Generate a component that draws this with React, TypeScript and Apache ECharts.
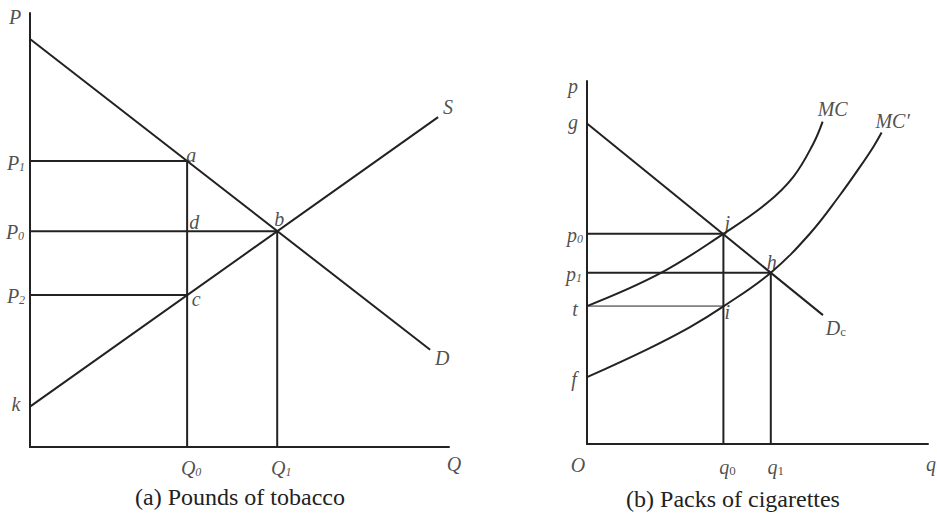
import React, { useEffect, useRef } from "react";
import * as echarts from "echarts";

// ---------- Panel (a): market for pounds of tobacco ----------
const tobaccoDemand: number[][] = [[0, 94], [95.5, 22.4]];
const tobaccoSupply: number[][] = [[0, 9.3], [97.4, 76]];
const Q0 = 37.5;
const Q1 = 59;
const P1 = 65.9;
const P0 = 49.7;
const P2 = 35.0;
const K = 9.3;

// ---------- Panel (b): market for packs of cigarettes ----------
const G = 88.3;
const cigDemand: number[][] = [[0, G], [69.2, 35.5]];
const q0 = 40;
const q1 = 53.9;
const p0 = 57.9;
const p1 = 47.2;
const T = 38;
const F = 18.4;
const mcCurve: number[][] = [
  [0, 38], [21.4, 47.0], [40, 57.9], [52.7, 66.3],
  [60.5, 73.6], [66.4, 82.8], [69.1, 88.8],
];
const mcPrimeCurve: number[][] = [
  [0, 18.4], [17.5, 26.0], [30.2, 32.2], [40, 37.9], [53.9, 47.2],
  [65.4, 58.0], [74.2, 68.6], [80.1, 76.4], [84.0, 81.9], [86.4, 85.8],
];

// Text labels: id, rich-text content, anchor point in data units
const tobaccoLabels: [string, string, number[]][] = [
  ["P", "{m|P}", [0, 100]],
  ["P1", "{m|P}{s|1}", [0, P1]],
  ["P0", "{m|P}{s|0}", [0, P0]],
  ["P2", "{m|P}{s|2}", [0, P2]],
  ["k", "{m|k}", [0, K]],
  ["a", "{m|a}", [Q0, P1]],
  ["d", "{m|d}", [Q0, P0]],
  ["b", "{m|b}", [Q1, P0]],
  ["c", "{m|c}", [Q0, P2]],
  ["S", "{m|S}", tobaccoSupply[1]],
  ["D", "{m|D}", tobaccoDemand[1]],
  ["Q0", "{m|Q}{s|0}", [Q0, 0]],
  ["Q1", "{m|Q}{s|1}", [Q1, 0]],
  ["Q", "{m|Q}", [100, 0]],
];
const cigLabels: [string, string, number[]][] = [
  ["p", "{m|p}", [0, 100]],
  ["g", "{m|g}", [0, G]],
  ["p0", "{m|p}{s|0}", [0, p0]],
  ["p1", "{m|p}{s|1}", [0, p1]],
  ["t", "{m|t}", [0, T]],
  ["f", "{m|f}", [0, F]],
  ["j", "{m|j}", [q0, p0]],
  ["h", "{m|h}", [q1, p1]],
  ["i", "{m|i}", [q0, T]],
  ["MC", "{m|MC}", mcCurve[mcCurve.length - 1]],
  ["MC'", "{m|MC′}", mcPrimeCurve[mcPrimeCurve.length - 1]],
  ["Dc", "{m|D}{u|c}", cigDemand[1]],
  ["O", "{m|O}", [0, 0]],
  ["q0", "{m|q}{u|0}", [q0, 0]],
  ["q1", "{m|q}{u|1}", [q1, 0]],
  ["q", "{m|q}", [100, 0]],
];
const captions = ["(a) Pounds of tobacco", "(b) Packs of cigarettes"];

// Label offsets (pixels from the anchor point to the text centre)
const offsets: Record<string, number[]> = {
  P: [-15, 4], P1: [-14, 2], P0: [-15, 1], P2: [-14, 1], k: [-14, -3],
  a: [4, -6], d: [7, -9], b: [2, -12], c: [9, 4], S: [10, -10], D: [12, 8],
  Q0: [4, 21], Q1: [4, 21], Q: [5, 17],
  p: [-14, 5], g: [-14, -1], p0: [-12, 1], p1: [-13, 1], t: [-12, 3],
  f: [-13, 2], j: [4, -11], h: [1, -11], i: [4, 6], MC: [10, -13],
  "MC'": [11, -12], Dc: [13, 13], O: [-9, 21], q0: [4, 23], q1: [5, 23],
  q: [3, 20],
};

const INK = "#222";
const FONT = "Liberation Serif, Times New Roman, serif";

const rich = {
  m: { fontFamily: FONT, fontStyle: "italic", fontSize: 20, color: INK, lineHeight: 20 },
  s: { fontFamily: FONT, fontStyle: "italic", fontSize: 12, color: INK, lineHeight: 10, verticalAlign: "bottom" },
  u: { fontFamily: FONT, fontSize: 13, color: INK, lineHeight: 10, verticalAlign: "bottom" },
};

function lineSeries(idx: number, data: number[][], width = 2, smooth = false) {
  return {
    type: "line",
    xAxisIndex: idx,
    yAxisIndex: idx,
    data,
    symbol: "none",
    smooth: smooth ? 0.4 : false,
    lineStyle: { color: INK, width },
    silent: true,
    z: 3,
  };
}

function labelSeries(idx: number, labels: [string, string, number[]][]) {
  return {
    type: "scatter",
    xAxisIndex: idx,
    yAxisIndex: idx,
    symbolSize: 1,
    itemStyle: { color: "rgba(0,0,0,0)" },
    silent: true,
    z: 5,
    data: labels.map(([id, text, at]) => ({
      value: at,
      label: {
        show: true,
        position: "inside",
        formatter: text,
        offset: offsets[id],
        fontFamily: FONT,
        rich,
      },
    })),
  };
}

function axis(idx: number) {
  return {
    type: "value",
    gridIndex: idx,
    min: 0,
    max: 100,
    axisLine: { show: true, onZero: false, lineStyle: { color: INK, width: 2 } },
    axisTick: { show: false },
    axisLabel: { show: false },
    splitLine: { show: false },
  };
}

export default function App() {
  const ref = useRef<HTMLDivElement>(null);

  useEffect(() => {
    if (!ref.current) return;
    const chart = echarts.init(ref.current, undefined, { renderer: "svg" });
    chart.setOption({
      animation: false,
      backgroundColor: "#fff",
      textStyle: { fontFamily: FONT },
      grid: [
        { left: 30, top: 13, width: 419, height: 434 },
        { left: 587, top: 81, width: 341, height: 363 },
      ],
      xAxis: [axis(0), axis(1)],
      yAxis: [axis(0), axis(1)],
      series: [
        // (a)
        lineSeries(0, tobaccoDemand),
        lineSeries(0, tobaccoSupply),
        lineSeries(0, [[0, P1], [Q0, P1], [Q0, 0]]),
        lineSeries(0, [[0, P0], [Q1, P0], [Q1, 0]]),
        lineSeries(0, [[0, P2], [Q0, P2]]),
        labelSeries(0, tobaccoLabels),
        // (b)
        lineSeries(1, cigDemand),
        lineSeries(1, mcCurve, 2, true),
        lineSeries(1, mcPrimeCurve, 2, true),
        lineSeries(1, [[0, p0], [q0, p0], [q0, 0]]),
        lineSeries(1, [[0, p1], [q1, p1], [q1, 0]]),
        lineSeries(1, [[0, T], [q0, T]], 1),
        labelSeries(1, cigLabels),
      ],
      graphic: [
        {
          type: "text",
          x: 240,
          y: 497,
          style: { text: captions[0], fontFamily: FONT, fontSize: 24, fill: INK, align: "center", verticalAlign: "middle" },
        },
        {
          type: "text",
          x: 733,
          y: 499,
          style: { text: captions[1], fontFamily: FONT, fontSize: 24, fill: INK, align: "center", verticalAlign: "middle" },
        },
      ],
    });
    return () => chart.dispose();
  }, []);

  return (
    <div
      ref={ref}
      style={{ position: "fixed", left: 0, top: 0, width: 937, height: 516, background: "#fff" }}
    />
  );
}
